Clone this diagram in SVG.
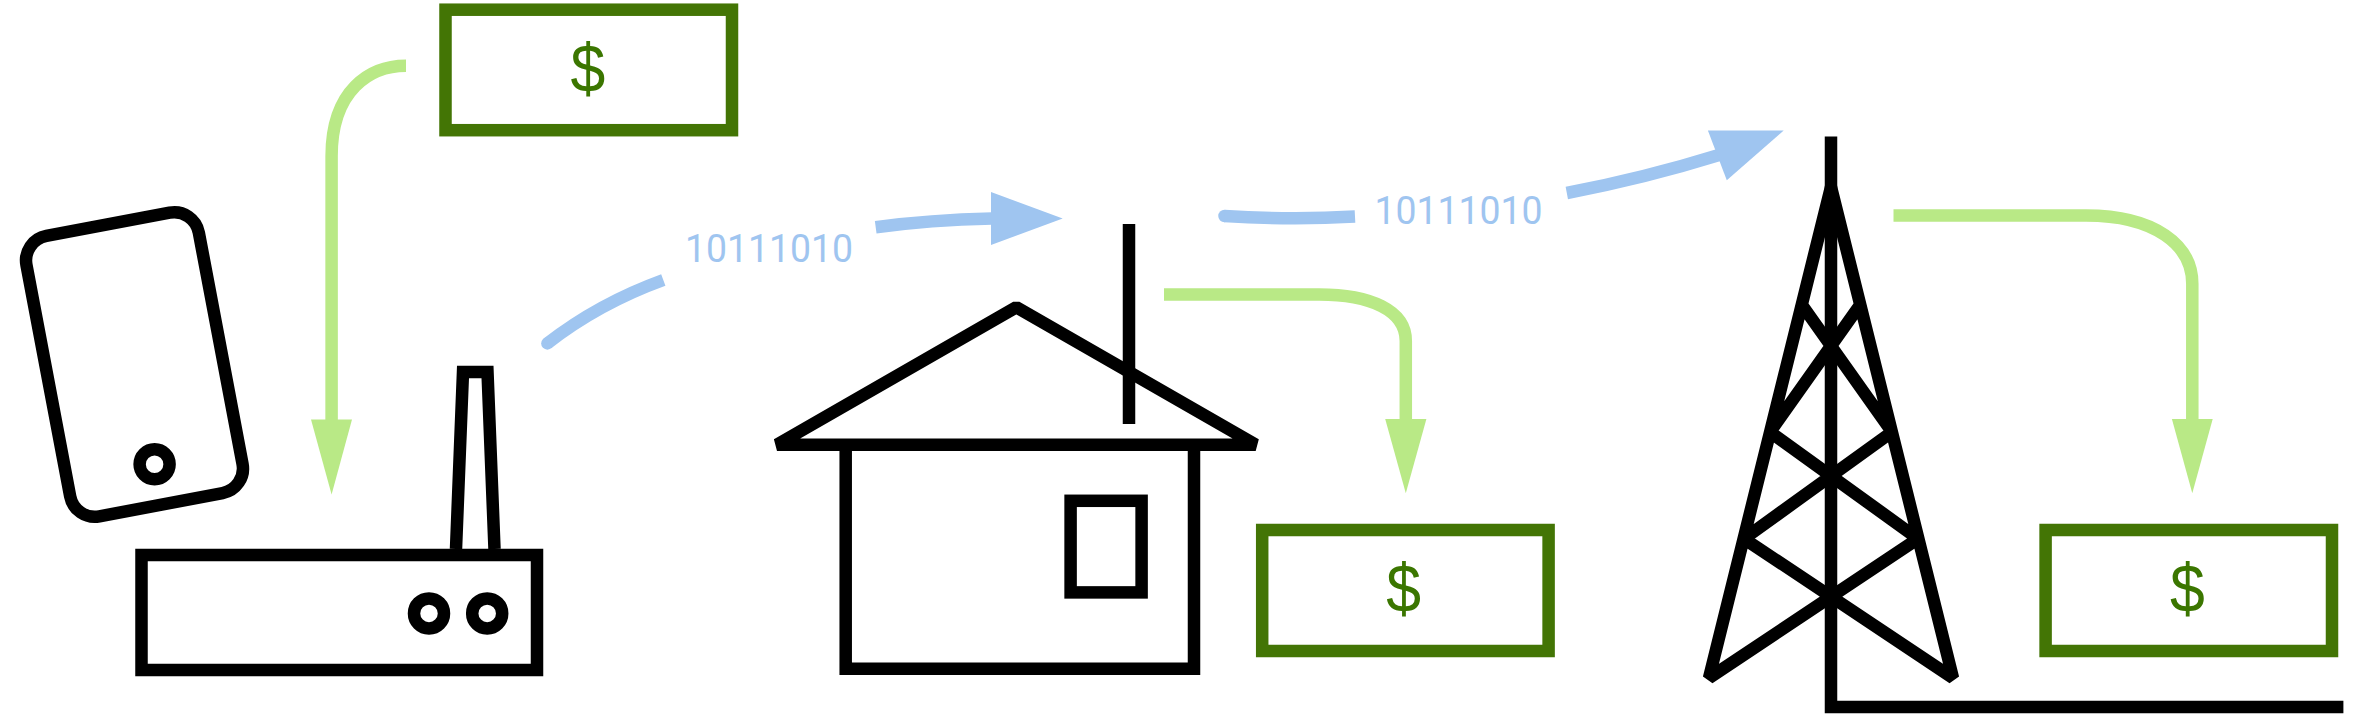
<svg xmlns="http://www.w3.org/2000/svg" width="2362" height="720" viewBox="0 0 2362 720">
<style>
.k{fill:none;stroke:#000;stroke-width:12.5;stroke-miterlimit:10}
.m{fill:none;stroke:#437505;stroke-width:12.5}
.d{font-family:"Liberation Sans",Arial,sans-serif;font-size:68px;fill:#3b7600;text-anchor:middle}
.b{font-family:Roboto,"Liberation Sans",sans-serif;font-size:39.5px;fill:#9fc5f0}
.gl{fill:none;stroke:#b9e986;stroke-width:12.5}
.bl{fill:none;stroke:#9fc5f0;stroke-width:12.5}
.gh{fill:#b9e986}
.bh{fill:#9fc5f0}
</style>
<rect width="2362" height="720" fill="#fff"/>
<g id="phone">
<rect class="k" x="46.8" y="221.8" width="175.4" height="285.4" rx="25" ry="25" transform="rotate(-10.7 134.5 364.5)"/>
<circle class="k" cx="154.6" cy="464.2" r="15"/>
</g>
<g id="router">
<path class="k" d="M456,549 L463,372 H487.5 L494.5,549"/>
<rect class="k" x="141.5" y="555" width="395.5" height="115"/>
<circle class="k" cx="429" cy="613.4" r="15"/>
<circle class="k" cx="487.2" cy="613.4" r="15"/>
</g>
<g id="house">
<path class="k" d="M1129,224 V424"/>
<path class="k" style="stroke-linejoin:bevel" d="M1016.3,307.2 L1255.7,444.7 H777 Z"/>
<path class="k" d="M845.7,445 V668.8 H1194 V445"/>
<rect class="k" x="1070.6" y="500.8" width="71" height="91.6"/>
</g>
<g id="tower">
<path class="k" d="M1831,136.4 V707 H2343.4"/>
<path class="k" style="stroke-linejoin:bevel" d="M1802,305 L1892,432 L1744,538.7 L1953,678 L1831,187 L1709,678 L1918,538.7 L1770,432 L1860,305"/>
</g>
<g id="money1">
<rect class="m" x="445.5" y="9.7" width="286.5" height="120.5"/>
<text class="d" transform="translate(588 92) scale(.92 1)">$</text>
</g>
<g id="money2">
<rect class="m" x="1262.2" y="530" width="286.4" height="121"/>
<text class="d" transform="translate(1403.7 612) scale(.92 1)">$</text>
</g>
<g id="money3">
<rect class="m" x="2045.6" y="530" width="286.4" height="121"/>
<text class="d" transform="translate(2187.5 612) scale(.92 1)">$</text>
</g>
<g id="connectors">
<path class="gl" d="M406,65.7 C370,65.7 331.6,90 331.6,156 V420"/>
<polygon class="gh" points="311,419.6 352,419.6 331.6,494.5"/>
<path class="gl" d="M1164,294.5 H1319 C1370,294.5 1405.8,310 1405.8,341 V420"/>
<polygon class="gh" points="1385.2,419 1426.4,419 1405.8,493.3"/>
<path class="gl" d="M1893.5,215.4 H2086 C2155,215.4 2192.3,245 2192.3,283.8 V420"/>
<polygon class="gh" points="2171.9,419 2212.7,419 2192.3,493.3"/>
<circle class="bh" cx="547.4" cy="343.4" r="6.25"/>
<path class="bl" d="M547.4,343.4 Q598.6,303.5 663.3,280"/>
<path class="bl" d="M875.7,227.3 Q930,220 992,218.6"/>
<polygon class="bh" points="991,192 1062.7,218.5 991,245"/>
<circle class="bh" cx="1224.5" cy="216" r="6.25"/>
<path class="bl" d="M1224.5,216 Q1290,220 1355,216.6"/>
<path class="bl" d="M1566.8,193 Q1645,178 1719,155"/>
<polygon class="bh" points="1707.9,130.4 1783.7,130.4 1726.8,180.2"/>
</g>
<text class="b" x="685" y="261.5" textLength="168" lengthAdjust="spacingAndGlyphs">10111010</text>
<text class="b" x="1374.6" y="223.5" textLength="168" lengthAdjust="spacingAndGlyphs">10111010</text>
</svg>
